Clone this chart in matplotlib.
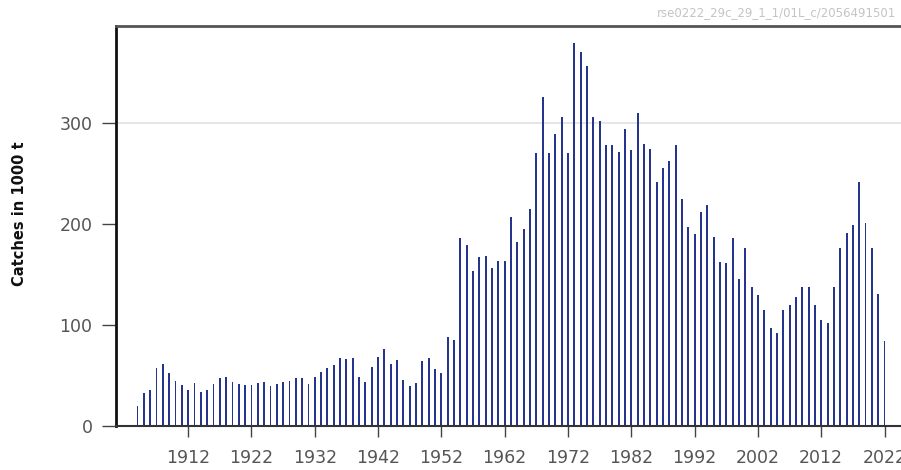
import numpy as np
import matplotlib
matplotlib.use('Agg')
import matplotlib.pyplot as plt

# catches per year, in 1000 t
years = list(range(1904, 2023))
catches = [
    20, 33, 36, 57, 61, 52, 45, 41, 36, 43,      # 1904-1913
    34, 36, 42, 48, 49, 44, 42, 41, 41, 43,      # 1914-1923
    44, 40, 42, 44, 45, 48, 48, 42, 49, 53,      # 1924-1933
    57, 60, 67, 66, 67, 49, 44, 58, 68, 76,      # 1934-1943
    61, 65, 46, 40, 43, 64, 67, 56, 52, 88,      # 1944-1953
    85, 186, 179, 153, 167, 168, 156, 163, 163, 207,  # 1954-1963
    182, 195, 215, 270, 326, 270, 289, 306, 270, 379, # 1964-1973
    370, 356, 306, 302, 278, 278, 271, 294, 273, 310, # 1974-1983
    279, 274, 242, 255, 262, 278, 225, 197, 190, 212, # 1984-1993
    219, 187, 162, 161, 186, 146, 176, 138, 130, 115, # 1994-2003
    97, 92, 115, 120, 128, 138, 138, 120, 105, 102,   # 2004-2013
    138, 176, 191, 199, 242, 201, 176, 131, 84,       # 2014-2022
]
xticks = list(range(1912, 2023, 10))
yticks = [0, 100, 200, 300]

fig = plt.figure(figsize=(9.01, 4.70), dpi=100)
ax = fig.add_axes([116/901, 44/470, 1 - 116/901, 400/470])

ax.axhline(300, color='#e0e0e0', lw=1.2, zorder=0)
ax.bar(years, catches, width=0.3, color='#25348c', linewidth=0, zorder=2)

ax.set_xlim(1900.6, 2024.6)
ax.set_ylim(0, 396)
ax.set_xticks(xticks)
ax.set_yticks(yticks)

ax.tick_params(axis='x', length=8, width=1, color='#444444', pad=8.5,
               labelsize=12.5, labelcolor='#555555')
ax.tick_params(axis='y', length=10, width=1, color='#444444', pad=7,
               labelsize=12.5, labelcolor='#555555')

ax.spines['left'].set_color('#111111')
ax.spines['left'].set_linewidth(2)
ax.spines['top'].set_color('#555555')
ax.spines['top'].set_linewidth(2)
ax.spines['bottom'].set_color('#333333')
ax.spines['bottom'].set_linewidth(1.5)
ax.spines['right'].set_visible(False)

fig.text(20/901, 1 - 214/470, 'Catches in 1000 t', rotation=90, fontsize=10.5,
         fontweight='bold', color='#111111', ha='center', va='center')
fig.text(0.995, 1 - 13/470, 'rse0222_29c_29_1_1/01L_c/2056491501', fontsize=8.5,
         color='#c4c4c4', ha='right', va='center')

fig.savefig('out.png', dpi=100, facecolor='white')
